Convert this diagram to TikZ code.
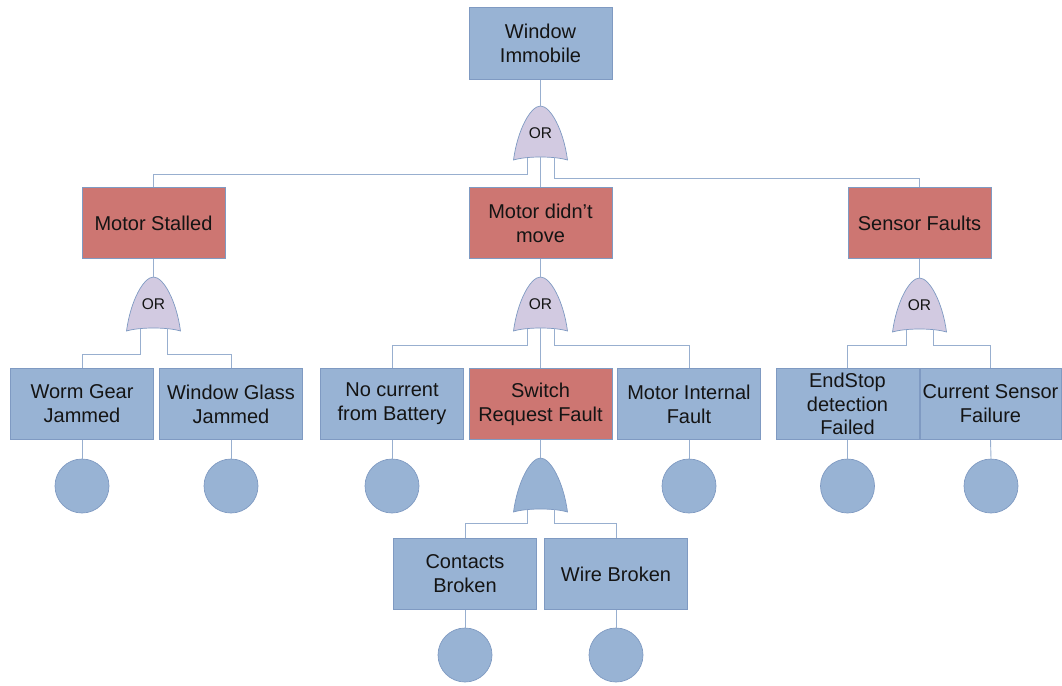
\documentclass[tikz,border=0pt]{standalone}
\usepackage{fontspec}
\setmainfont{Liberation Sans}
\definecolor{blueF}{HTML}{98B3D4}
\definecolor{redF}{HTML}{CD7672}
\definecolor{gateF}{HTML}{D2CAE1}
\definecolor{boxline}{HTML}{7F9AC2}
\definecolor{linkC}{HTML}{98AFCF}
\definecolor{inkC}{HTML}{141414}
\begin{document}
\begin{tikzpicture}[x=1pt,y=-1pt,
  box/.style={draw=boxline, line width=0.7pt, minimum width=143pt, minimum height=71.5pt,
    inner sep=0pt, align=center, text=inkC, font=\fontsize{20}{23.8}\selectfont},
  basic/.style={box, fill=blueF},
  inter/.style={box, fill=redF},
  event/.style={circle, draw=boxline, fill=blueF, line width=0.7pt, minimum size=54pt, inner sep=0pt},
  link/.style={draw=linkC, line width=0.9pt},
  pics/gate/.style 2 args={code={
    \path[fill=#1, draw=boxline, line width=0.7pt]
      (-27,54) .. controls (-23,24) and (-10,0) .. (0,0)
      .. controls (10,0) and (23,24) .. (27,54)
      .. controls (14,50) and (-14,50) .. (-27,54) -- cycle;
    \node[text=inkC, font=\fontsize{15.5}{18}\selectfont, inner sep=0pt] (-label) at (0,27) {#2};
    \coordinate (-top) at (0,0);
    \coordinate (-l) at (-13.5,51.6);
    \coordinate (-r) at (13.5,51.6);
    \coordinate (-c) at (0,51);
  }}]
\useasboundingbox (0,0) rectangle (1062,685);

% events
\node[basic] (wi)  at (540.5,43.5) {Window\\Immobile};
\node[inter] (ms)  at (153.5,223) {Motor Stalled};
\node[inter] (mdm) at (540.5,223) {Motor didn’t\\move};
\node[inter] (sf)  at (919.5,223) {Sensor Faults};

\node[basic] (wg)  at (82,404)    {Worm Gear\\Jammed};
\node[basic] (wgl) at (231,404)   {Window Glass\\Jammed};
\node[basic] (nc)  at (392,404)   {No current\\from Battery};
\node[inter] (srf) at (540.5,404) {Switch\\Request Fault};
\node[basic] (mif) at (689,404)   {Motor Internal\\Fault};
\node[basic] (es)  at (847.5,404) {EndStop\\detection\\Failed};
\node[basic, minimum width=141pt] (cs) at (990.5,404) {Current Sensor\\Failure};

\node[basic] (cb)  at (465,574)   {Contacts\\Broken};
\node[basic] (wb)  at (616,574)   {Wire Broken};

% basic event circles
\node[event] (e1) at (82,486)  {};
\node[event] (e2) at (231,486) {};
\node[event] (e3) at (392,486) {};
\node[event] (e4) at (689,486) {};
\node[event] (e5) at (847.5,486) {};
\node[event] (e6) at (991,486) {};
\node[event] (e7) at (465,655) {};
\node[event] (e8) at (616,655) {};

% gates
\pic (g1) at (540.5,106) {gate={gateF}{OR}};
\pic (g2) at (153.5,277) {gate={gateF}{OR}};
\pic (g3) at (540.5,277) {gate={gateF}{OR}};
\pic (g4) at (919.5,278) {gate={gateF}{OR}};
\pic (g5) at (540.5,458) {gate={blueF}{}};

% connectors
\draw[link] (wi.south) -- (g1-top);
\draw[link] (g1-l) -- ++(0,17) -| (ms.north);
\draw[link] (g1-r) -- ++(0,21) -| (sf.north);
\draw[link] (g1-c) -- (mdm.north);

\draw[link] (ms.south) -- (g2-top);
\draw[link] (g2-l) -- ++(0,26) -| (wg.north);
\draw[link] (g2-r) -- ++(0,26) -| (wgl.north);

\draw[link] (mdm.south) -- (g3-top);
\draw[link] (g3-l) -- ++(0,16.5) -| (nc.north);
\draw[link] (g3-r) -- ++(0,16.5) -| (mif.north);
\draw[link] (g3-c) -- (srf.north);

\draw[link] (sf.south) -- (g4-top);
\draw[link] (g4-l) -- ++(0,15.5) -| (es.north);
\draw[link] (g4-r) -- ++(0,15.5) -| (cs.north);

\draw[link] (srf.south) -- (g5-top);
\draw[link] (g5-l) -- ++(0,13.5) -| (cb.north);
\draw[link] (g5-r) -- ++(0,13.5) -| (wb.north);

\draw[link] (wg.south)  -- (e1.north);
\draw[link] (wgl.south) -- (e2.north);
\draw[link] (nc.south)  -- (e3.north);
\draw[link] (mif.south) -- (e4.north);
\draw[link] (es.south)  -- (e5.north);
\draw[link] (cs.south)  -- (e6.north);
\draw[link] (cb.south)  -- (e7.north);
\draw[link] (wb.south)  -- (e8.north);
\end{tikzpicture}
\end{document}
